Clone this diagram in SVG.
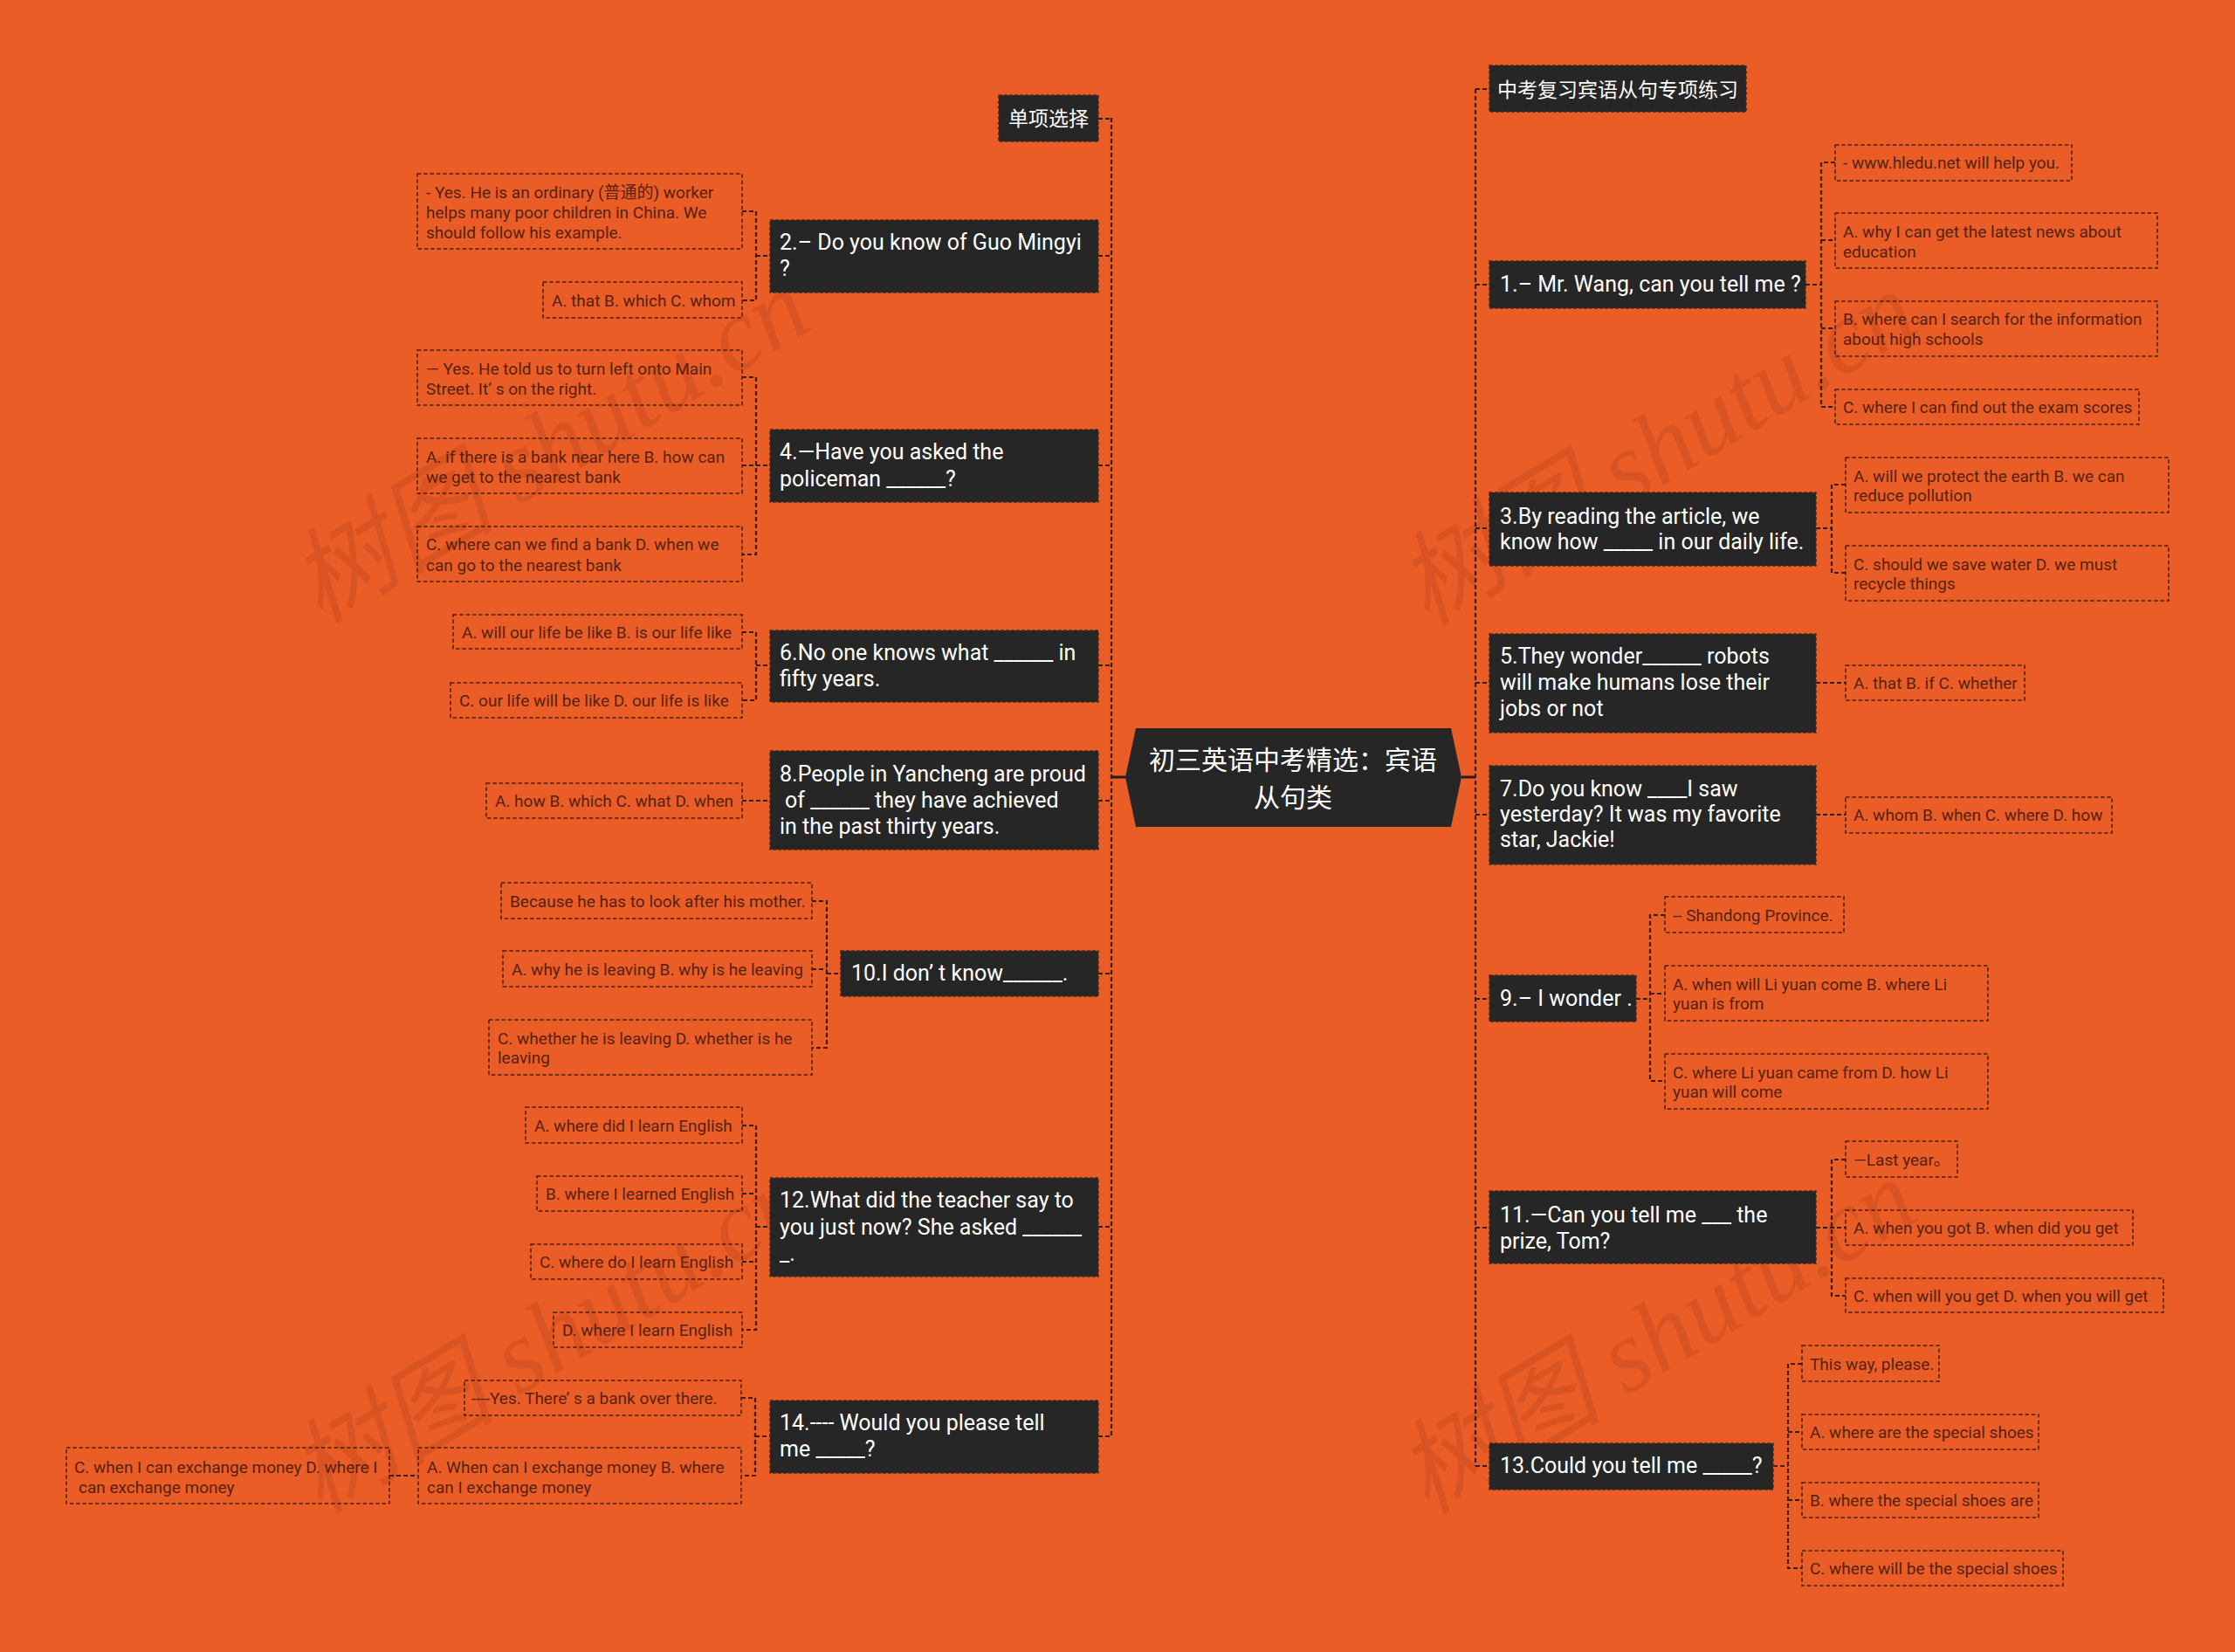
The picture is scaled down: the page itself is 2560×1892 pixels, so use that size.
<svg xmlns="http://www.w3.org/2000/svg" width="2560" height="1892" viewBox="0 0 2560 1892">
<defs>
<style>
.bg{fill:#EA5D27}
.node{fill:#262626;stroke:#4a2a1c;stroke-width:1.5;stroke-dasharray:4 2}
.leaf{fill:none;stroke:#4a1e10;stroke-width:1.5;stroke-dasharray:4.5 2.8}
.nt{font-family:Roboto,'Noto Sans CJK SC',sans-serif;font-size:25px;fill:#ffffff}
.ct{font-family:'Noto Sans CJK SC',sans-serif;font-size:23px;fill:#ffffff;text-anchor:middle}
.lt{font-family:Roboto,'Noto Sans CJK SC',sans-serif;font-size:19px;fill:#56210f}
.con{fill:none;stroke:#3b1c0e;stroke-width:2.2;stroke-dasharray:5 3}
.wm{font-family:'Liberation Serif','Noto Sans CJK SC',serif;font-size:118px;font-style:italic;fill:#9a3310;opacity:0.2}
</style>
</defs>
<rect class="bg" x="0" y="0" width="2560" height="1892"/>

<g id="watermarks">
<text class="wm" transform="translate(650,545) rotate(-31)" text-anchor="middle">树图 shutu.cn</text>
<text class="wm" transform="translate(1918,548) rotate(-31)" text-anchor="middle">树图 shutu.cn</text>
<text class="wm" transform="translate(650,1565) rotate(-31)" text-anchor="middle">树图 shutu.cn</text>
<text class="wm" transform="translate(1918,1565) rotate(-31)" text-anchor="middle">树图 shutu.cn</text>
</g>

<g id="connectors">
<path d="M1273,890 H1289 M1674,890 H1690" fill="none" stroke="#2a1a12" stroke-width="3"/>
<path class="con" d="M1273,135 V1645 M1258,136 H1273 M1258,293 H1273 M1258,533 H1273 M1258,762 H1273 M1258,917 H1273 M1258,1115 H1273 M1258,1405 H1273 M1258,1645 H1273"/>
<path class="con" d="M1690,102 V1679 M1690,102 H1706 M1690,326 H1706 M1690,605 H1706 M1690,782 H1706 M1690,933 H1706 M1690,1144 H1706 M1690,1406 H1706 M1690,1679 H1706"/>
<path class="con" d="M850,242 H866 V344 H850 M866,293 H882"/>
<path class="con" d="M850,432 H866 V635 H850 M850,533 H882"/>
<path class="con" d="M850,724 H866 V802 H850 M866,762 H882"/>
<path class="con" d="M850,917 H882"/>
<path class="con" d="M930,1032 H947 V1200 H930 M930,1110 H947 M947,1115 H963"/>
<path class="con" d="M850,1289 H866 V1523 H850 M850,1367 H866 M850,1445 H866 M866,1405 H882"/>
<path class="con" d="M849,1601 H865 V1690 H849 M865,1645 H882 M446,1690 H479"/>
<path class="con" d="M2102,186 H2086 V466 H2102 M2086,275 H2102 M2086,376 H2102 M2068,326 H2086"/>
<path class="con" d="M2114,555 H2098 V656 H2114 M2080,605 H2098"/>
<path class="con" d="M2080,782 H2114"/>
<path class="con" d="M2080,933 H2114"/>
<path class="con" d="M1907,1048 H1890 V1238 H1907 M1890,1138 H1907 M1874,1144 H1890"/>
<path class="con" d="M2114,1328 H2098 V1484 H2114 M2080,1406 H2114"/>
<path class="con" d="M2064,1562 H2048 V1796 H2064 M2048,1640 H2064 M2048,1718 H2064 M2031,1679 H2048"/>
</g>

<g id="root">
<polygon points="1289,890 1301,834 1662,834 1674,890 1662,947 1301,947" fill="#262626"/>
<text font-family="'Noto Sans CJK SC',sans-serif" font-size="30" fill="#ffffff" text-anchor="middle" x="1481" y="881">初三英语中考精选：宾语</text>
<text font-family="'Noto Sans CJK SC',sans-serif" font-size="30" fill="#ffffff" text-anchor="middle" x="1481" y="924">从句类</text>
</g>

<g id="n-dxxz"><rect class="node" x="1144" y="109" width="114" height="53"/><text class="ct" x="1201" y="144">单项选择</text></g>
<g id="n2"><rect class="node" x="882" y="252" width="376" height="83"/><text class="nt"><tspan x="893" y="286">2.– Do you know of Guo Mingyi</tspan><tspan x="893" y="316">?</tspan></text></g>
<g id="n4"><rect class="node" x="882" y="492" width="376" height="83"/><text class="nt"><tspan x="893" y="526">4.—Have you asked the</tspan><tspan x="893" y="557">policeman ______?</tspan></text></g>
<g id="n6"><rect class="node" x="882" y="722" width="376" height="82"/><text class="nt"><tspan x="893" y="756">6.No one knows what ______ in</tspan><tspan x="893" y="786">fifty years.</tspan></text></g>
<g id="n8"><rect class="node" x="882" y="860" width="376" height="113"/><text class="nt"><tspan x="893" y="895">8.People in Yancheng are proud</tspan><tspan x="899" y="925">of ______ they have achieved</tspan><tspan x="893" y="955">in the past thirty years.</tspan></text></g>
<g id="n10"><rect class="node" x="963" y="1089" width="295" height="52"/><text class="nt" x="975" y="1123">10.I don’  t know______.</text></g>
<g id="n12"><rect class="node" x="882" y="1349" width="376" height="113"/><text class="nt"><tspan x="893" y="1383">12.What did the teacher say to</tspan><tspan x="893" y="1414">you just now? She asked ______</tspan><tspan x="893" y="1444">_.</tspan></text></g>
<g id="n14"><rect class="node" x="882" y="1604" width="376" height="83"/><text class="nt"><tspan x="893" y="1638">14.---- Would you please tell</tspan><tspan x="893" y="1668">me _____?</tspan></text></g>

<g id="n-zkfx"><rect class="node" x="1706" y="75" width="294" height="53"/><text class="ct" x="1853" y="111">中考复习宾语从句专项练习</text></g>
<g id="n1"><rect class="node" x="1706" y="299" width="362" height="54"/><text class="nt" x="1718" y="334">1.– Mr. Wang, can you tell me ?</text></g>
<g id="n3"><rect class="node" x="1706" y="564" width="374" height="84"/><text class="nt"><tspan x="1718" y="600">3.By reading the article, we</tspan><tspan x="1718" y="629">know how _____ in our daily life.</tspan></text></g>
<g id="n5"><rect class="node" x="1706" y="726" width="374" height="113"/><text class="nt"><tspan x="1718" y="760">5.They wonder______ robots</tspan><tspan x="1718" y="790">will make humans lose their</tspan><tspan x="1718" y="820">jobs or not</tspan></text></g>
<g id="n7"><rect class="node" x="1706" y="877" width="374" height="113"/><text class="nt"><tspan x="1718" y="912">7.Do you know ____I saw</tspan><tspan x="1718" y="941">yesterday? It was my favorite</tspan><tspan x="1718" y="970">star, Jackie!</tspan></text></g>
<g id="n9"><rect class="node" x="1706" y="1117" width="168" height="53"/><text class="nt" x="1718" y="1152">9.– I wonder .</text></g>
<g id="n11"><rect class="node" x="1706" y="1364" width="374" height="83"/><text class="nt"><tspan x="1718" y="1400">11.—Can you tell me ___ the</tspan><tspan x="1718" y="1430">prize, Tom?</tspan></text></g>
<g id="n13"><rect class="node" x="1706" y="1653" width="325" height="53"/><text class="nt" x="1718" y="1687">13.Could you tell me _____?</text></g>

<g id="l2a"><rect class="leaf" x="478" y="199" width="372" height="86"/><text class="lt"><tspan x="488" y="227">- Yes. He is an ordinary (普通的) worker</tspan><tspan x="488" y="250">helps many poor children in China. We</tspan><tspan x="488" y="273">should follow his example.</tspan></text></g>
<g id="l2b"><rect class="leaf" x="622" y="323" width="228" height="41"/><text class="lt" x="632" y="351">A. that B. which C. whom</text></g>
<g id="l4a"><rect class="leaf" x="478" y="401" width="372" height="63"/><text class="lt"><tspan x="488" y="429">— Yes. He told us to turn left onto Main</tspan><tspan x="488" y="452">Street. It’  s on the right.</tspan></text></g>
<g id="l4b"><rect class="leaf" x="478" y="502" width="372" height="63"/><text class="lt"><tspan x="488" y="530">A. if there is a bank near here B. how can</tspan><tspan x="488" y="553">we get to the nearest bank</tspan></text></g>
<g id="l4c"><rect class="leaf" x="478" y="603" width="372" height="63"/><text class="lt"><tspan x="488" y="630">C. where can we find a bank D. when we</tspan><tspan x="488" y="654">can go to the nearest bank</tspan></text></g>
<g id="l6a"><rect class="leaf" x="519" y="704" width="331" height="39"/><text class="lt" x="529" y="731">A. will our life be like B. is our life like</text></g>
<g id="l6b"><rect class="leaf" x="516" y="782" width="334" height="40"/><text class="lt" x="526" y="809">C. our life will be like D. our life is like</text></g>
<g id="l8a"><rect class="leaf" x="557" y="897" width="293" height="40"/><text class="lt" x="567" y="924">A. how B. which C. what D. when</text></g>
<g id="l10a"><rect class="leaf" x="574" y="1011" width="356" height="41"/><text class="lt" x="584" y="1039">Because he has to look after his mother.</text></g>
<g id="l10b"><rect class="leaf" x="576" y="1089" width="354" height="41"/><text class="lt" x="586" y="1117">A. why he is leaving B. why is he leaving</text></g>
<g id="l10c"><rect class="leaf" x="560" y="1168" width="370" height="63"/><text class="lt"><tspan x="570" y="1196">C. whether he is leaving D. whether is he</tspan><tspan x="570" y="1218">leaving</tspan></text></g>
<g id="l12a"><rect class="leaf" x="602" y="1268" width="248" height="41"/><text class="lt" x="612" y="1296">A. where did I learn English</text></g>
<g id="l12b"><rect class="leaf" x="615" y="1347" width="235" height="40"/><text class="lt" x="625" y="1374">B. where I learned English</text></g>
<g id="l12c"><rect class="leaf" x="608" y="1425" width="242" height="40"/><text class="lt" x="618" y="1452">C. where do I learn English</text></g>
<g id="l12d"><rect class="leaf" x="634" y="1503" width="216" height="40"/><text class="lt" x="644" y="1530">D. where I learn English</text></g>
<g id="l14a"><rect class="leaf" x="532" y="1581" width="317" height="40"/><text class="lt" x="540" y="1608">----Yes. There’  s a bank over there.</text></g>
<g id="l14b"><rect class="leaf" x="479" y="1658" width="370" height="64"/><text class="lt"><tspan x="489" y="1687">A. When can I exchange money B. where</tspan><tspan x="489" y="1710">can I exchange money</tspan></text></g>
<g id="l14c"><rect class="leaf" x="76" y="1658" width="370" height="64"/><text class="lt"><tspan x="85" y="1687">C. when I can exchange money D. where I</tspan><tspan x="90" y="1710">can exchange money</tspan></text></g>

<g id="l1a"><rect class="leaf" x="2102" y="166" width="271" height="41"/><text class="lt" x="2111" y="193">- www.hledu.net will help you.</text></g>
<g id="l1b"><rect class="leaf" x="2102" y="244" width="369" height="63"/><text class="lt"><tspan x="2111" y="272">A. why I can get the latest news about</tspan><tspan x="2111" y="295">education</tspan></text></g>
<g id="l1c"><rect class="leaf" x="2102" y="345" width="369" height="63"/><text class="lt"><tspan x="2111" y="372">B. where can I search for the information</tspan><tspan x="2111" y="395">about high schools</tspan></text></g>
<g id="l1d"><rect class="leaf" x="2102" y="446" width="348" height="40"/><text class="lt" x="2111" y="473">C. where I can find out the exam scores</text></g>
<g id="l3a"><rect class="leaf" x="2114" y="524" width="370" height="63"/><text class="lt"><tspan x="2123" y="552">A. will we protect the earth B. we can</tspan><tspan x="2123" y="574">reduce pollution</tspan></text></g>
<g id="l3b"><rect class="leaf" x="2114" y="625" width="370" height="63"/><text class="lt"><tspan x="2123" y="653">C. should we save water D. we must</tspan><tspan x="2123" y="675">recycle things</tspan></text></g>
<g id="l5a"><rect class="leaf" x="2114" y="762" width="205" height="40"/><text class="lt" x="2123" y="789">A. that B. if C. whether</text></g>
<g id="l7a"><rect class="leaf" x="2114" y="913" width="305" height="41"/><text class="lt" x="2123" y="940">A. whom B. when C. where D. how</text></g>
<g id="l9a"><rect class="leaf" x="1907" y="1027" width="205" height="41"/><text class="lt" x="1916" y="1055">-- Shandong Province.</text></g>
<g id="l9b"><rect class="leaf" x="1907" y="1106" width="370" height="63"/><text class="lt"><tspan x="1916" y="1134">A. when will Li yuan come B. where Li</tspan><tspan x="1916" y="1156">yuan is from</tspan></text></g>
<g id="l9c"><rect class="leaf" x="1907" y="1207" width="370" height="63"/><text class="lt"><tspan x="1916" y="1235">C. where Li yuan came from D. how Li</tspan><tspan x="1916" y="1257">yuan will come</tspan></text></g>
<g id="l11a"><rect class="leaf" x="2114" y="1307" width="128" height="41"/><text class="lt" x="2123" y="1335">—Last year。</text></g>
<g id="l11b"><rect class="leaf" x="2114" y="1386" width="329" height="40"/><text class="lt" x="2123" y="1413">A. when you got B. when did you get</text></g>
<g id="l11c"><rect class="leaf" x="2114" y="1464" width="364" height="39"/><text class="lt" x="2123" y="1491">C. when will you get D. when you will get</text></g>
<g id="l13a"><rect class="leaf" x="2064" y="1541" width="157" height="41"/><text class="lt" x="2073" y="1569">This way, please.</text></g>
<g id="l13b"><rect class="leaf" x="2064" y="1620" width="271" height="40"/><text class="lt" x="2073" y="1647">A. where are the special shoes</text></g>
<g id="l13c"><rect class="leaf" x="2064" y="1698" width="271" height="40"/><text class="lt" x="2073" y="1725">B. where the special shoes are</text></g>
<g id="l13d"><rect class="leaf" x="2064" y="1776" width="299" height="40"/><text class="lt" x="2073" y="1803">C. where will be the special shoes</text></g>
</svg>
